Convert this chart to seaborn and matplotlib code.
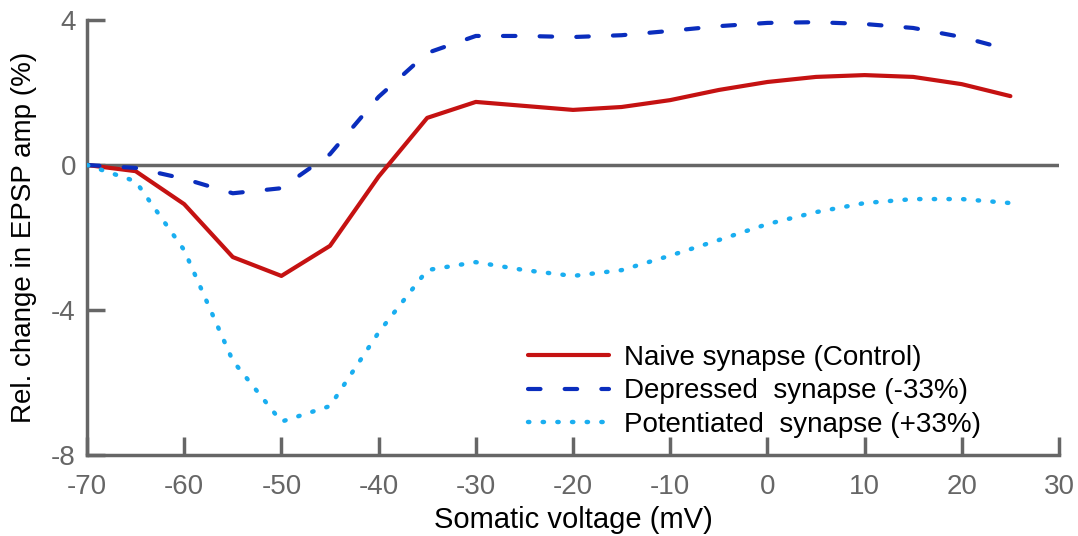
import numpy as np
import pandas as pd
import matplotlib
matplotlib.use("Agg")
import matplotlib.pyplot as plt
import seaborn as sns

voltage = [-70, -65, -60, -55, -50, -45, -40, -35, -30, -25, -20, -15, -10, -5, 0, 5, 10, 15, 20, 25]
naive = [0, -0.17, -1.08, -2.54, -3.06, -2.23, -0.32, 1.3, 1.74, 1.63, 1.52, 1.6, 1.79, 2.07, 2.29, 2.43, 2.48, 2.43, 2.23, 1.9]
depressed = [0, -0.08, -0.38, -0.78, -0.64, 0.3, 1.88, 3.09, 3.56, 3.56, 3.53, 3.58, 3.7, 3.83, 3.92, 3.94, 3.89, 3.78, 3.53, 3.17]
potentiated = [0, -0.45, -2.35, -5.4, -7.08, -6.65, -4.62, -2.9, -2.68, -2.9, -3.06, -2.9, -2.5, -2.07, -1.63, -1.3, -1.05, -0.94, -0.94, -1.05]

labels = ["Naive synapse (Control)", "Depressed  synapse (-33%)", "Potentiated  synapse (+33%)"]
colors = ["#c51212", "#0a2dbd", "#1aaef0"]
xticks = [-70, -60, -50, -40, -30, -20, -10, 0, 10, 20, 30]
yticks = [-8, -4, 0, 4]

sns.set_style("white")
plt.rcParams['font.family'] = ['Liberation Sans', 'DejaVu Sans']
plt.rcParams['axes.unicode_minus'] = False

fig = plt.figure(figsize=(10.78, 5.36), dpi=100)
ax = fig.add_axes([87/1078, 1 - 455/536, (1059 - 87)/1078, (455 - 20)/536])

gray = "#666666"
ax.axhline(0, color=gray, lw=2.5, zorder=1)

df = pd.DataFrame({"v": voltage, labels[0]: naive, labels[1]: depressed, labels[2]: potentiated})
styles = [dict(lw=3, linestyle="-"),
          dict(lw=3, linestyle=(0, (3, 5.8)), dash_capstyle="round"),
          dict(lw=3.2, linestyle=(0, (0.3, 3.0)), dash_capstyle="round")]
for lab, col, st in zip(labels, colors, styles):
    sns.lineplot(x="v", y=lab, data=df, color=col, label=lab, ax=ax, zorder=3, **st)

ax.set_xlim(-70, 30)
ax.set_ylim(-8, 4)
ax.set_xticks(xticks)
ax.set_yticks(yticks)
ax.tick_params(bottom=True, left=True, direction="in", length=13, width=2.5, color=gray,
               labelcolor=gray, labelsize=20)
ax.tick_params(axis="x", pad=14)
ax.tick_params(axis="y", pad=8)
for s in ["top", "right"]:
    ax.spines[s].set_visible(False)
for s in ["left", "bottom"]:
    ax.spines[s].set_color(gray)
    ax.spines[s].set_linewidth(2.5)
ax.set_xlabel("Somatic voltage (mV)", fontsize=21, color="black", labelpad=4)
ax.set_ylabel("Rel. change in EPSP amp (%)", fontsize=20, color="black", labelpad=10)

leg = ax.legend(loc="lower left", bbox_to_anchor=(0.4395, 0.007), frameon=False, fontsize=20,
                handlelength=2.9, handletextpad=0.55, labelspacing=0.28, borderpad=0)
for t in leg.get_texts():
    t.set_color("black")
fig.savefig("out.png", dpi=100)
